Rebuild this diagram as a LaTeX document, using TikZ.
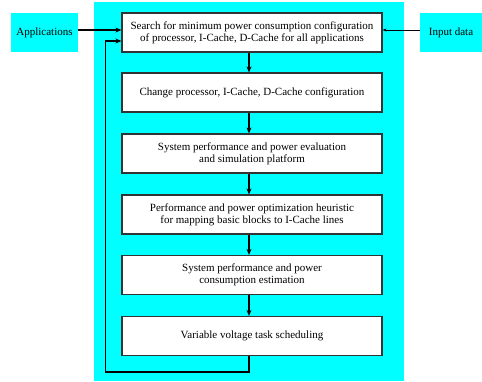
\documentclass[tikz,border=0pt]{standalone}
\usepackage{fontspec}
\setmainfont{Liberation Serif}
\usetikzlibrary{arrows.meta}
\definecolor{cy}{RGB}{0,255,255}
\begin{document}
\begin{tikzpicture}[x=1pt,y=-1pt,
  stepbox/.style={draw=black!80,line width=1.2pt,fill=white,minimum width=260pt,minimum height=39pt,inner sep=0pt,align=center,font=\fontsize{11}{12.3}\selectfont},
  sidebox/.style={fill=cy,inner sep=0pt,align=center,font=\fontsize{11}{12.3}\selectfont},
  arr/.style={line width=1.3pt,-{Stealth[length=6pt,width=5pt]}}]
\useasboundingbox (0,0) rectangle (482,381);
\fill[cy] (94,2) rectangle (404,381);
\node[sidebox,minimum width=67pt,minimum height=39pt] (app) at (44.5,32.5) {Applications};
\node[sidebox,minimum width=62pt,minimum height=39pt] (inp) at (451,32.5) {Input data};
\node[stepbox] (b1) at (252,32.5) {Search for minimum power consumption configuration\\of processor, I-Cache, D-Cache for all applications};
\node[stepbox] (b2) at (252,92.5) {Change processor, I-Cache, D-Cache configuration};
\node[stepbox] (b3) at (252,153.5) {System performance and power evaluation\\and simulation platform};
\node[stepbox] (b4) at (252,214.5) {Performance and power optimization heuristic\\for mapping basic blocks to I-Cache lines};
\node[stepbox] (b5) at (252,275) {System performance and power\\consumption estimation};
\node[stepbox] (b6) at (252,336) {Variable voltage task scheduling};
\draw[arr] (app.east |- 0,30) -- (b1.west |- 0,30);
\draw[line width=0.6pt,-{Stealth[length=4pt,width=3pt]}] (inp.west |- 0,30) -- (b1.east |- 0,30);
\coordinate (s1) at (249,52);
\draw[arr] (b1.south -| s1) -- (b2.north -| s1);
\draw[arr] (b2.south -| s1) -- (b3.north -| s1);
\draw[arr] (b3.south -| s1) -- (b4.north -| s1);
\draw[arr] (b4.south -| s1) -- (b5.north -| s1);
\draw[arr] (b5.south -| s1) -- (b6.north -| s1);
\coordinate (lb) at (105.5,372);
\draw[arr] (b6.south -| s1) -- (s1 |- lb) -- (lb) -- (lb |- 0,41) -- (b1.west |- 0,41);
\end{tikzpicture}
\end{document}
